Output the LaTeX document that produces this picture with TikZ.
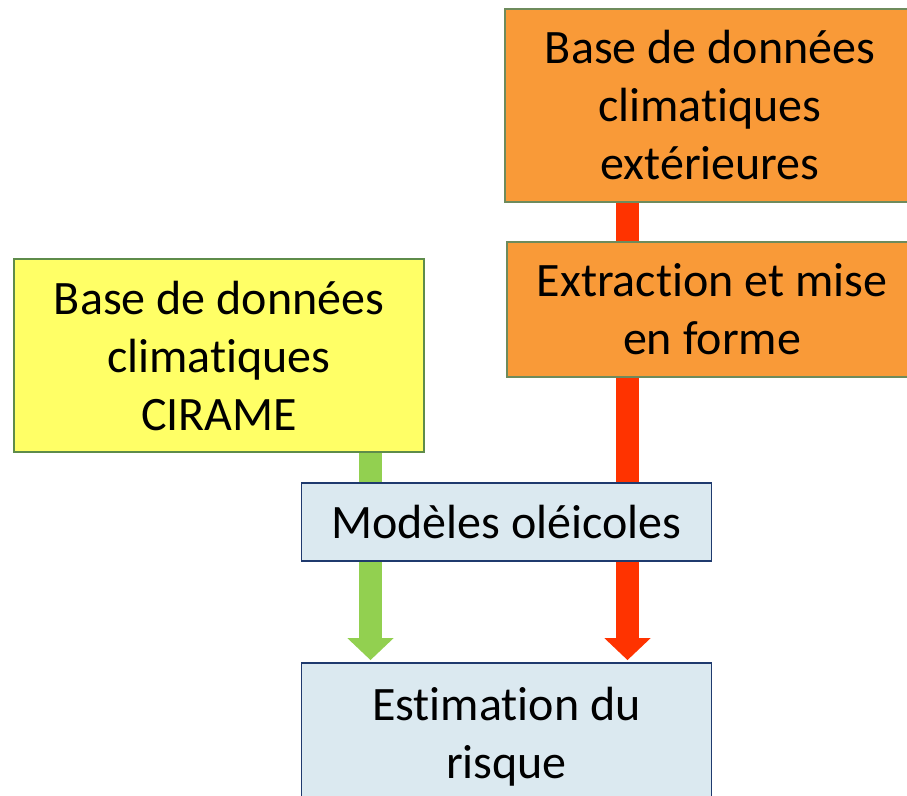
\documentclass[tikz,border=0pt]{standalone}
\usepackage{fontspec}
\setmainfont[Ligatures=NoCommon]{Carlito}
\usetikzlibrary{arrows.meta}
\definecolor{orfill}{HTML}{F99A38}
\definecolor{orline}{HTML}{6E8B5C}
\definecolor{yefill}{HTML}{FFFF66}
\definecolor{yeline}{HTML}{5E8C4A}
\definecolor{blfill}{HTML}{DBE9F0}
\definecolor{blline}{HTML}{1F3A6E}
\definecolor{redar}{HTML}{FF3300}
\definecolor{grar}{HTML}{92D050}
\begin{document}
\begin{tikzpicture}[x=1pt,y=-1pt,
  box/.style={draw, line width=1.8pt, minimum width=410pt, inner sep=0pt, align=center,
    font=\fontsize{48}{58}\selectfont},
  orbox/.style={box, fill=orfill, draw=orline},
  yebox/.style={box, fill=yefill, draw=yeline},
  blbox/.style={box, fill=blfill, draw=blline},
  flow/.style={line width=23pt},
  head/.style={-{Triangle[width=45pt,length=22pt]}}]
\clip (0,0) rectangle (907,795);
\fill[white] (0,0) rectangle (907,795);
% box positions
\coordinate (pos1) at (710,105.5);
\coordinate (pos2) at (712,309.5);
\coordinate (pos3) at (219,355.5);
\coordinate (pos4) at (506.5,522);
\coordinate (pos5) at (506.5,737);
% invisible placeholders for connector ends
\path (pos1) node[orbox, minimum height=193pt, draw=none, fill=none] (bdext) {}
      (pos2) node[orbox, minimum height=135pt, draw=none, fill=none] (extr) {}
      (pos3) node[yebox, minimum height=193pt, draw=none, fill=none] (cirame) {}
      (pos4) node[blbox, minimum height=78pt, draw=none, fill=none] (mod) {}
      (pos5) node[blbox, minimum height=148pt, draw=none, fill=none] (est) {};
\coordinate (redtip) at ([yshift=2pt]est.north -| 627.5,0);
\coordinate (grtip) at ([yshift=2pt]est.north -| 370.5,0);
\draw[flow, redar] (bdext.south -| redtip) -- (extr.north -| redtip);
\draw[flow, redar, head] (extr.south -| redtip) -- (redtip);
\draw[flow, grar, head] (cirame.south -| grtip) -- (grtip);
% boxes on top
\node[orbox, minimum height=193pt] at (pos1) {Base de données\\climatiques\\extérieures};
\node[orbox, minimum height=135pt] at (pos2) {Extraction et mise\\en forme};
\node[yebox, minimum height=193pt] at (pos3) {Base de données\\climatiques\\CIRAME};
\node[blbox, minimum height=78pt] at (pos4) {Modèles oléicoles};
\node[blbox, minimum height=148pt] at (pos5) {Estimation du\\risque};
\end{tikzpicture}
\end{document}
